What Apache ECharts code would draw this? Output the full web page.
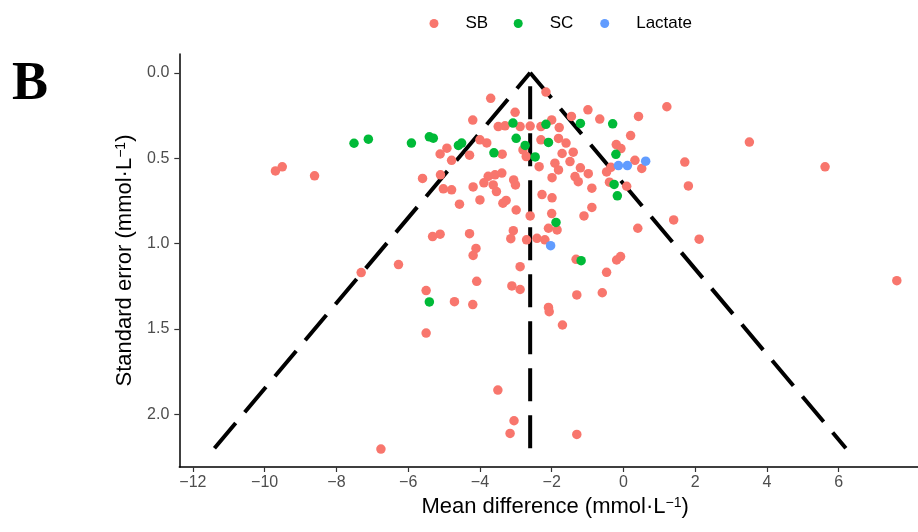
<!DOCTYPE html>
<html>
<head>
<meta charset="utf-8">
<script src="https://cdn.jsdelivr.net/npm/echarts@6/dist/echarts.min.js"></script>
<style>html,body{margin:0;padding:0;background:#fff}#c{width:918px;height:532px}</style>
</head>
<body>
<div id="c"></div>
<script>
// ---- data (mean difference, standard error) ----
const sbPoints = [
[-9.70,0.575],[-9.51,0.551],[-8.61,0.604],[-5.60,0.619],[-7.31,1.171],[-6.27,1.124],[-5.50,1.276],[-5.50,1.525],[-6.76,2.205],[-4.71,1.341],[-4.20,1.358],[-3.50,1.859],[-3.05,2.039],[-3.16,2.113],[-1.30,2.119],[-1.70,1.478],[-2.09,1.375],[-2.07,1.400],[-1.30,1.302],[-0.59,1.289],[-3.11,1.249],[-2.88,1.270],[-4.09,1.222],[-2.88,1.136],[-0.47,1.169],[-0.19,1.097],[-0.08,1.077],[-1.32,1.093],[-4.19,1.070],[-4.11,1.029],[-5.32,0.960],[-5.11,0.946],[-4.29,0.943],[-3.07,0.925],[-3.14,0.972],[-2.70,0.979],[-2.41,0.970],[-2.19,0.979],[-2.09,0.911],[-1.85,0.921],[-1.10,0.839],[-0.88,0.789],[-2.60,0.839],[-2.00,0.825],[-2.99,0.804],[-3.36,0.764],[-3.27,0.748],[-4.00,0.745],[-4.57,0.770],[0.40,0.911],[1.40,0.862],[2.11,0.975],[1.81,0.663],[1.71,0.523],[1.21,0.199],[3.51,0.406],[5.62,0.551],[7.62,1.218],
[-2.16,0.113],[-3.70,0.150],[-3.02,0.232],[-4.20,0.277],[-0.99,0.217],[-0.66,0.271],[-1.45,0.256],[0.42,0.256],[-3.49,0.315],[-3.30,0.311],[-2.88,0.315],[-2.60,0.312],[-2.30,0.315],[-2.00,0.276],[-1.79,0.321],[0.20,0.368],[-2.30,0.393],[-1.81,0.385],[-1.60,0.412],[-4.00,0.393],[-3.81,0.411],[-0.20,0.421],[-0.07,0.444],[-4.92,0.442],[-5.11,0.476],[-4.79,0.513],[-4.29,0.483],[-3.38,0.477],[-2.80,0.452],[-2.71,0.491],[-1.71,0.473],[-1.40,0.465],[-1.49,0.520],[0.32,0.513],[-2.35,0.550],[-1.91,0.530],[-1.81,0.569],[-1.20,0.557],[-0.98,0.591],[-0.47,0.581],[-0.35,0.554],[0.51,0.561],[-1.35,0.608],[-1.26,0.638],[-1.99,0.615],[-0.39,0.641],[0.09,0.665],[-0.88,0.676],[-5.10,0.598],[-3.77,0.607],[-3.58,0.598],[-3.39,0.588],[-3.89,0.645],[-3.63,0.657],[-3.06,0.628],[-3.01,0.657],[-4.19,0.669],[-5.02,0.680],[-4.79,0.686],[-3.54,0.696],[-2.27,0.714],[-1.99,0.733]
];
const scPoints = [
[-7.51,0.413],[-7.11,0.389],[-5.91,0.412],[-5.41,0.375],[-5.30,0.383],[-4.60,0.426],[-4.51,0.412],[-3.08,0.295],[-2.99,0.384],[-2.74,0.426],[-2.46,0.493],[-3.61,0.469],[-2.16,0.302],[-2.09,0.408],[-1.20,0.297],[-0.30,0.299],[-0.21,0.478],[-0.26,0.654],[-0.17,0.721],[-1.88,0.877],[-1.18,1.101],[-5.41,1.343]
];
const lactatePoints = [[-0.14,0.544],[0.11,0.544],[0.62,0.518],[-2.03,1.013]];
// funnel: pooled estimate and 95% limits
const funnelLeft = [[-11.4,2.2],[-2.6,0]];
const funnelRight = [[-2.6,0],[6.2,2.2]];
const funnelCenter = [[-2.6,2.2],[-2.6,0]];
const xTicks = [-12,-10,-8,-6,-4,-2,0,2,4,6];
const yTicks = [0,0.5,1,1.5,2];
const seriesNames = ['SB','SC','Lactate'];
const colors = ['#F8766D','#00BA38','#619CFF'];

const chart = echarts.init(document.getElementById('c'), null, {renderer:'canvas'});
const FONT = '"Liberation Sans", Arial, Helvetica, sans-serif';
const dashStyle = {color:'#000', width:4, type:[33,14], cap:'butt'};
function lineSeries(d){
  return {type:'line', data:d, symbol:'none', silent:true, lineStyle:dashStyle, z:1, animation:false};
}
const legendLefts = [424.5, 508.7, 595.2];
const titleRich = {sup:{fontFamily:FONT, fontSize:14, verticalAlign:'top', lineHeight:12, color:'#000'}};
const option = {
  animation:false,
  grid:{left:179.3, top:54, width:751.6, height:413, containLabel:false, outerBoundsMode:'none'},
  xAxis:{
    type:'value', min:-12.38, max:8.57,
    name:'Mean difference (mmol·L{sup|−1})', nameLocation:'middle', nameGap:28,
    nameTextStyle:{fontFamily:FONT, fontSize:22, color:'#000', rich:titleRich},
    axisLine:{show:true, onZero:false, lineStyle:{color:'#000', width:1.5}},
    axisTick:{show:true, length:5, customValues:xTicks, lineStyle:{color:'#333', width:1.2}},
    axisLabel:{customValues:xTicks, margin:8, fontFamily:FONT, fontSize:16, color:'#4D4D4D',
      formatter:v=> v<0 ? '\u2212'+Math.abs(v) : String(v)},
    splitLine:{show:false}
  },
  yAxis:{
    type:'value', inverse:true, min:-0.11, max:2.31,
    name:'Standard error (mmol·L{sup|−1})', nameLocation:'middle', nameGap:41, nameRotate:90,
    nameTextStyle:{fontFamily:FONT, fontSize:22, color:'#000', rich:titleRich},
    axisLine:{show:true, onZero:false, lineStyle:{color:'#000', width:1.5}},
    axisTick:{show:true, length:5, customValues:yTicks, lineStyle:{color:'#333', width:1.2}},
    axisLabel:{customValues:yTicks, margin:10, fontFamily:FONT, fontSize:16, color:'#4D4D4D',
      formatter:v=> v.toFixed(1)},
    splitLine:{show:false}
  },
  legend: seriesNames.map((n,i)=>({
    data:[{name:n, icon:'circle'}], left:legendLefts[i], top:10, itemWidth:9, itemHeight:9,
    selectedMode:false,
    formatter:'{g|}{t|'+n+'}',
    textStyle:{fontFamily:FONT, fontSize:17, color:'#000', rich:{g:{width:22}, t:{fontFamily:FONT, fontSize:17, color:'#000'}}}
  })),
  graphic:[{type:'text', left:12, top:58, style:{text:'B', font:'bold 54px "Liberation Serif", "Times New Roman", serif', fill:'#000'}}],
  series:[
    lineSeries(funnelLeft), lineSeries(funnelRight), lineSeries(funnelCenter),
    {name:'SB', type:'scatter', data:sbPoints, symbolSize:9.5, itemStyle:{color:colors[0], opacity:1}, z:2},
    {name:'SC', type:'scatter', data:scPoints, symbolSize:9.5, itemStyle:{color:colors[1], opacity:1}, z:2},
    {name:'Lactate', type:'scatter', data:lactatePoints, symbolSize:9.5, itemStyle:{color:colors[2], opacity:1}, z:2}
  ]
};
chart.setOption(option);
</script>
</body>
</html>
